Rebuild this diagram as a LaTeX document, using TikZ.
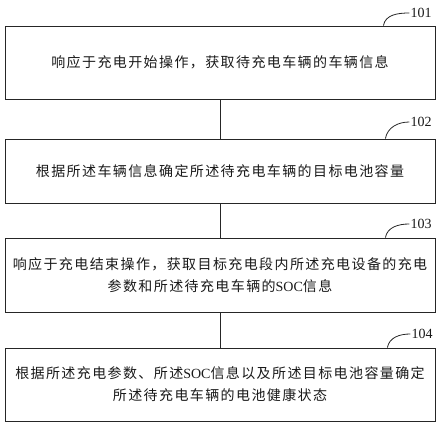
\documentclass[tikz,border=0pt]{standalone}
\usepackage{fontspec}
\setmainfont{Liberation Serif}
\newfontfamily\cjk[LetterSpace=10]{Noto Sans CJK SC}
\begin{document}
\begin{tikzpicture}[x=1pt,y=1pt,
  box/.style={draw=black!85, line width=0.8pt, minimum width=430pt, inner sep=0pt,
    align=center, font=\cjk\fontsize{14}{22}\selectfont, text=black!90},
  conn/.style={draw=black!85, line width=0.8pt},
  lbl/.style={font=\fontsize{14}{16}\selectfont, inner sep=1pt, text=black!90}]
\useasboundingbox (0,0) rectangle (444,-427);
\node[box, minimum height=73pt] (b1) at (220,-62.5) {响应于充电开始操作，获取待充电车辆的车辆信息};
\node[box, minimum height=64pt] (b2) at (220,-171) {根据所述车辆信息确定所述待充电车辆的目标电池容量};
\node[box, minimum height=74pt] (b3) at (220,-275) {响应于充电结束操作，获取目标充电段内所述充电设备的充电\\参数和所述待充电车辆的{\rmfamily SOC}信息};
\node[box, minimum height=73pt] (b4) at (220,-384.5) {根据所述充电参数、所述{\rmfamily SOC}信息以及所述目标电池容量确定\\所述待充电车辆的电池健康状态};
\draw[conn] (b1) -- (b2);
\draw[conn] (b2) -- (b3);
\draw[conn] (b3) -- (b4);
\node[lbl] (l1) at (421,-13) {101};
\node[lbl] (l2) at (421,-122) {102};
\node[lbl] (l3) at (421,-224) {103};
\node[lbl] (l4) at (422,-334) {104};
\draw[conn] ([xshift=-52pt]b1.north east) to[out=80,in=180] (l1.west);
\draw[conn] ([xshift=-50pt]b2.north east) to[out=80,in=180] (l2.west);
\draw[conn] ([xshift=-50pt]b3.north east) to[out=80,in=180] (l3.west);
\draw[conn] ([xshift=-48pt]b4.north east) to[out=80,in=180] (l4.west);
\end{tikzpicture}
\end{document}
